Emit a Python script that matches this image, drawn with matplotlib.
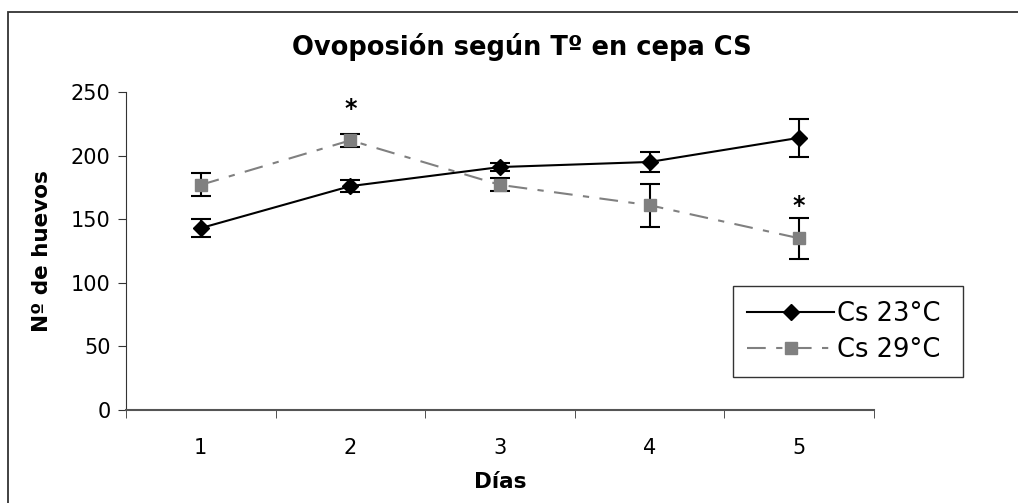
import numpy as np
import matplotlib.pyplot as plt
from matplotlib.patches import Rectangle

# Data
dias = [1, 2, 3, 4, 5]
cs23 = [143, 176, 191, 195, 214]
cs23_err = [7, 5, 3, 8, 15]
cs29 = [177, 212, 177, 161, 135]
cs29_err = [9, 5, 5, 17, 16]
signif_dias = [2, 5]
signif_y = [237, 160]

plt.rcParams['font.family'] = ['DejaVu Sans']

fig = plt.figure(figsize=(10.18, 5.03), dpi=100)
ax = fig.add_axes([126 / 1018, 93 / 503, 748 / 1018, 318 / 503])

# outer chart border (runs off right and bottom edges)
fig.patches.append(Rectangle((8 / 1018, -0.05), 1.1, 1 - 12 / 503 + 0.05,
                             transform=fig.transFigure, fill=False,
                             edgecolor='#333333', linewidth=1.3))

eb1 = ax.errorbar(dias, cs23, yerr=cs23_err, color='black', linewidth=1.5,
                  marker='D', markersize=8, capsize=7, capthick=1.5, elinewidth=1.5,
                  zorder=3)
eb2 = ax.errorbar(dias, cs29, yerr=cs29_err, color='#808080', linewidth=1.5,
                  linestyle=(0, (9, 5, 3, 5)), marker='s', markersize=8,
                  ecolor='black', capsize=7, capthick=1.5, elinewidth=1.5,
                  zorder=2)

for d, y in zip(signif_dias, signif_y):
    ax.text(d, y, '*', ha='center', va='center', fontsize=17, fontweight='bold')

ax.set_xlim(0.5, 5.5)
ax.set_ylim(0, 250)
ax.set_yticks([0, 50, 100, 150, 200, 250])
ax.set_xticks(dias)
ax.set_xticks(np.arange(0.5, 5.6, 1), minor=True)
ax.tick_params(axis='x', which='major', length=0, labelsize=15, pad=20)
ax.tick_params(axis='x', which='minor', length=6, color='#333333')
ax.tick_params(axis='y', length=6, labelsize=15, color='#333333', pad=5)

for s in ['top', 'right']:
    ax.spines[s].set_visible(False)
ax.spines['left'].set_color('#333333')
ax.spines['bottom'].set_color('#555555')
ax.spines['bottom'].set_linewidth(1.5)

fig.text(522 / 1018, 1 - 47 / 503, 'Ovoposión según Tº en cepa CS',
         ha='center', va='center', fontsize=18.5, fontweight='bold')
ax.set_xlabel('Días', fontsize=15.5, fontweight='bold', labelpad=10)
ax.set_ylabel('Nº de huevos', fontsize=15.5, fontweight='bold', labelpad=14)

leg = ax.legend(handles=[eb1.lines[0], eb2.lines[0]], labels=['Cs 23°C ', 'Cs 29°C '],
                loc='lower left', bbox_to_anchor=(733 / 1018, (503 - 377) / 503),
                bbox_transform=fig.transFigure, fontsize=18.5, frameon=True,
                fancybox=False, edgecolor='black', handlelength=3.4,
                borderpad=0.55, labelspacing=0.4, handletextpad=0.1,
                borderaxespad=0)
leg.get_frame().set_linewidth(1.0)

plt.savefig('out.png', dpi=100)
